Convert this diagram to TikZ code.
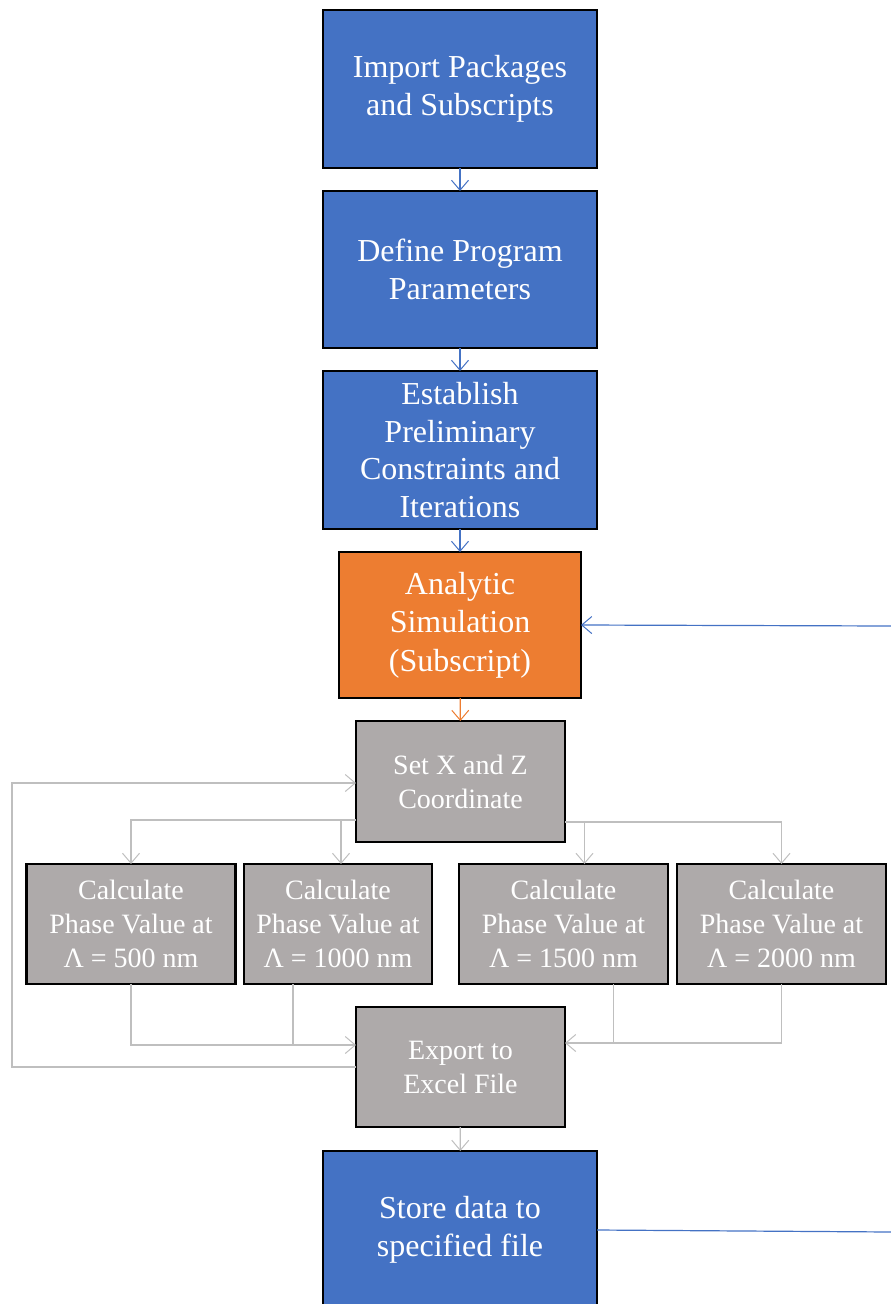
\documentclass[tikz,border=0pt]{standalone}
\usepackage{fontspec}
\setmainfont{Liberation Serif}
\usetikzlibrary{arrows.meta}
\definecolor{stepblue}{HTML}{4472C4}
\definecolor{steporange}{HTML}{ED7D31}
\definecolor{stepgray}{HTML}{AEAAAA}
\definecolor{linkgray}{HTML}{BFBFBF}
\tikzset{
  box/.style={draw=black, line width=2.5pt, text=white, align=center, inner sep=0pt, outer sep=0pt},
  bluebox/.style={box, fill=stepblue, minimum width=274pt, minimum height=158pt, font=\fontsize{32}{37.5}\selectfont},
  orangebox/.style={box, fill=steporange, minimum width=242pt, minimum height=146pt, font=\fontsize{32}{38.5}\selectfont},
  graybox/.style={box, fill=stepgray, minimum width=209pt, minimum height=121pt, font=\fontsize{28}{34}\selectfont},
  link/.style={line width=1.2pt, -{Straight Barb[length=10pt,width=17pt,line width=1pt]}},
  bluelink/.style={link, draw=stepblue},
  orangelink/.style={link, draw=steporange},
  graylink/.style={link, draw=linkgray},
  grayline/.style={line width=1.2pt, draw=linkgray}
}

\begin{document}
\begin{tikzpicture}[x=1pt,y=-1pt]
			%%%%% START %%%%%
			\useasboundingbox (0,0) rectangle (891,1304);
			\clip (0,0) rectangle (891,1304);
			
			\node[bluebox] (imp) at (460, 89) {Import Packages\\and Subscripts};
			\node[bluebox, minimum height=157pt] (def) at (460, 269.5) {Define Program\\Parameters};
			\node[bluebox] (est) at (460, 450) {Establish\\Preliminary\\Constraints and\\Iterations};
			\node[orangebox] (ana) at (460, 625) {Analytic\\Simulation\\(Subscript)};
			
			\node[graybox] (setxz) at (460.5, 781.5) {Set X and Z\\Coordinate};
			\node[graybox, minimum height=120pt] (c500) at (131, 924) {Calculate\\Phase Value at\\Λ = 500 nm};
			\node[graybox, minimum width=188pt, minimum height=120pt] (c1000) at (338, 924) {Calculate\\Phase Value at\\Λ = 1000 nm};
			\node[graybox, minimum height=120pt] (c1500) at (563.5, 924) {Calculate\\Phase Value at\\Λ = 1500 nm};
			\node[graybox, minimum height=120pt] (c2000) at (781.5, 924) {Calculate\\Phase Value at\\Λ = 2000 nm};
			\node[graybox, minimum height=120pt] (exp) at (460.5, 1067) {Export to\\Excel File};
			
			\node[bluebox] (sto) at (460, 1230) {Store data to\\specified file};
			
			% main column
			\draw[bluelink] (imp) -- (def);
			\draw[bluelink] (def) -- (est);
			\draw[bluelink] (est) -- (ana);
			\draw[orangelink] (ana) -- (setxz);
			\draw[graylink] (exp) -- (sto);
			
			% fan out to the four wavelengths
			\draw[graylink] ([yshift=22pt]setxz.south west) -| (c500.north);
			\draw[graylink] ([yshift=22pt]setxz.south west) -| ([xshift=3pt]c1000.north);
			\draw[graylink] ([yshift=20pt]setxz.south east) -| ([xshift=21pt]c1500.north);
			\draw[graylink] ([yshift=20pt]setxz.south east) -| (c2000.north);
			
			% collect into export
			\draw[graylink] (c500.south) |- ([yshift=22pt]exp.west);
			\draw[grayline] ([xshift=-45pt]c1000.south) -- ++(0,61);
			\draw[graylink] (c2000.south) |- ([yshift=24pt]exp.east);
			\draw[grayline] ([xshift=50pt]c1500.south) -- ++(0,59);
			
			% loop back
			\draw[graylink] (exp.west) -- ++(-344,0) |- ([yshift=-1.5pt]setxz.west);
			
			% off-page links
			\coordinate (anain) at (891, 626);
			\coordinate (stoout) at (891, 1232);
			\draw[bluelink] (anain) -- (ana.east);
			\draw[line width=1.2pt, stepblue] (sto.east) -- (stoout);
			
			%%%%% END %%%%%
\end{tikzpicture}
\end{document}
